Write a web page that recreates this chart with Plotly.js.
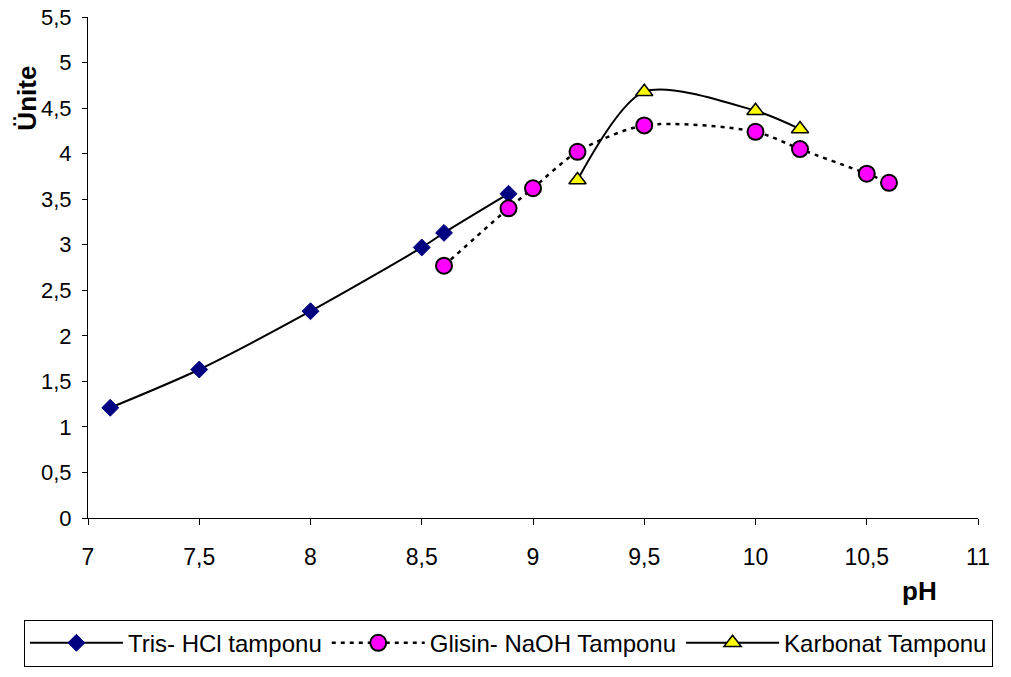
<!DOCTYPE html>
<html><head><meta charset="utf-8">
<script src="https://cdn.plot.ly/plotly-3.0.1.min.js"></script>
<style>body{margin:0;background:#fff}#c{width:1011px;height:677px}</style>
</head><body><div id="c"></div>
<script>
const trisX = [7.1, 7.5, 8.0, 8.5, 8.6, 8.89];
const trisY = [1.21, 1.63, 2.27, 2.97, 3.13, 3.56];
const glisinX = [8.6, 8.89, 9.0, 9.2, 9.5, 10.0, 10.2, 10.5, 10.6];
const glisinY = [2.77, 3.40, 3.62, 4.02, 4.31, 4.24, 4.05, 3.78, 3.68];
const karbX = [9.2, 9.5, 10.0, 10.2];
const karbY = [3.71, 4.68, 4.47, 4.27];
const names = ["Tris- HCl tamponu", "Glisin- NaOH Tamponu", "Karbonat Tamponu"];
const yTicks = [0,0.5,1,1.5,2,2.5,3,3.5,4,4.5,5,5.5];
const xTicks = [7,7.5,8,8.5,9,9.5,10,10.5,11];

const FONT = "Liberation Sans, Arial, sans-serif";
const traces = [
  {x: trisX, y: trisY, name: names[0], mode: "lines+markers",
   line: {color: "#000", width: 2, shape: "spline", smoothing: 0.8},
   marker: {symbol: "diamond", size: 13, color: "#000080", line: {color: "#000080", width: 1}}},
  {x: glisinX, y: glisinY, name: names[1], mode: "lines+markers",
   line: {color: "#000", width: 2.5, dash: "4px,5px", shape: "spline", smoothing: 0.8},
   marker: {symbol: "circle", size: 16, color: "#FF00FF", line: {color: "#000", width: 2}}},
  {x: karbX, y: karbY, name: names[2], mode: "lines+markers",
   line: {color: "#000", width: 2, shape: "spline", smoothing: 0.8},
   marker: {symbol: "triangle-up", size: 15, color: "#FFFF00", line: {color: "#000", width: 1.5}}}
];
const layout = {
  width: 1011, height: 677,
  margin: {l: 88, r: 33, t: 17, b: 159, autoexpand: false},
  paper_bgcolor: "#fff", plot_bgcolor: "#fff",
  separators: ", ",
  font: {family: FONT, size: 22, color: "#000"},
  showlegend: true,
  xaxis: {range: [7, 11], tickvals: xTicks, showgrid: false, zeroline: false, automargin: false,
    showline: true, linecolor: "#000", linewidth: 1, ticks: "outside", ticklen: 6, tickcolor: "#000",
    tickfont: {family: FONT, size: 23}, ticklabelstandoff: 12},
  yaxis: {range: [0, 5.5], tickvals: yTicks, showgrid: false, zeroline: false, automargin: false,
    showline: true, linecolor: "#000", linewidth: 1, ticks: "outside", ticklen: 5, tickcolor: "#000",
    tickfont: {family: FONT, size: 22}, ticklabelstandoff: 6},
  legend: {orientation: "h", xref: "paper", x: -0.072, xanchor: "left",
    yref: "paper", y: -0.203, yanchor: "top",
    bordercolor: "#000", borderwidth: 1, font: {family: FONT, size: 24}, itemwidth: 93,
    bgcolor: "#fff"},
  annotations: [
    {text: "<b>Ünite</b>", xref: "paper", yref: "paper", x: -0.068, y: 0.838, textangle: -90,
     xanchor: "center", yanchor: "middle",
     showarrow: false, font: {family: FONT, size: 26}},
    {text: "<b>pH</b>", xref: "paper", yref: "paper", x: 0.934, y: -0.145,
     xanchor: "center", yanchor: "middle",
     showarrow: false, font: {family: FONT, size: 26}}
  ]
};
Plotly.newPlot("c", traces, layout, {displayModeBar: false});
</script></body></html>
